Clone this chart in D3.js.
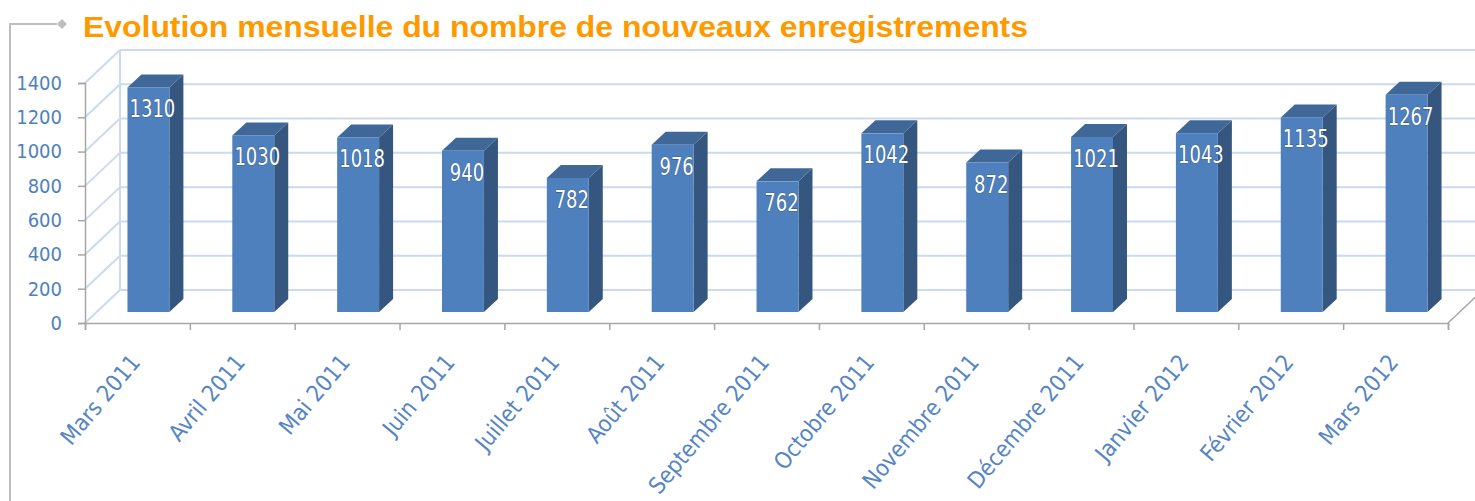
<!DOCTYPE html>
<html>
<head>
<meta charset="utf-8">
<script src="https://cdn.jsdelivr.net/npm/d3@7"></script>
<style>
  html, body { margin: 0; padding: 0; background: #fff; }
  svg { display: block; }
</style>
</head>
<body>
<div id="chart"></div>
<script>
(function () {
  const MONTHS = ['Mars 2011', 'Avril 2011', 'Mai 2011', 'Juin 2011', 'Juillet 2011', 'Août 2011',
    'Septembre 2011', 'Octobre 2011', 'Novembre 2011', 'Décembre 2011', 'Janvier 2012', 'Février 2012', 'Mars 2012'];
  const VALUES = [1310, 1030, 1018, 940, 782, 976, 762, 1042, 872, 1021, 1043, 1135, 1267];
  const Y_TICKS = [0, 200, 400, 600, 800, 1000, 1200, 1400];
  const TITLE = 'Evolution mensuelle du nombre de nouveaux enregistrements';

  const width = 1475, height = 501;
  const LABEL_FONT = "'DejaVu Sans Condensed', 'Lato', sans-serif";

  // 3d offsets (front plane -> bar plane -> back wall)
  const BAR_OFF = { dx: 11, dy: -11 };
  const BAR_DEPTH = { dx: 14, dy: -13 };
  const WALL_OFF = { dx: 35, dy: -33 };

  const svg = d3.select('#chart').append('svg')
    .attr('width', width)
    .attr('height', height);

  // category slots on the front plane
  const xSlot = d3.scaleLinear().domain([0, MONTHS.length]).range([85, 1448]);
  const x = d3.scaleBand().domain(d3.range(MONTHS.length)).range([85, 1448]).paddingInner(0.6).paddingOuter(0.3);
  const y = d3.scaleLinear().domain([0, 1400]).range([323, 83]);

  // left frame decoration
  svg.append('path')
    .attr('d', 'M10,501 L10,24 L57,24')
    .attr('fill', 'none')
    .attr('stroke', '#bdbdbd')
    .attr('stroke-width', 2);
  svg.append('path')
    .attr('d', 'M62,19 L67,24 L62,29 L57,24 Z')
    .attr('fill', '#bdbdbd');

  // title
  svg.append('text')
    .attr('x', 83)
    .attr('y', 37)
    .attr('fill', '#ff9900')
    .attr('font-family', "'Liberation Sans', Arial, sans-serif")
    .attr('font-weight', 'bold')
    .attr('font-size', '29px')
    .attr('textLength', 945)
    .attr('lengthAdjust', 'spacingAndGlyphs')
    .text(TITLE);

  // back wall + side wall gridlines
  const grid = svg.append('g').attr('stroke', '#cbdaee').attr('stroke-width', 2).attr('fill', 'none');
  Y_TICKS.forEach(t => {
    grid.append('line')
      .attr('x1', 85 + WALL_OFF.dx).attr('x2', width)
      .attr('y1', y(t) + WALL_OFF.dy).attr('y2', y(t) + WALL_OFF.dy);
    grid.append('line')
      .attr('x1', 85).attr('x2', 85 + WALL_OFF.dx)
      .attr('y1', y(t)).attr('y2', y(t) + WALL_OFF.dy);
  });
  grid.append('line')
    .attr('x1', 85 + WALL_OFF.dx).attr('x2', 85 + WALL_OFF.dx)
    .attr('y1', y(1400) + WALL_OFF.dy).attr('y2', y(0) + WALL_OFF.dy);

  // floor right edge
  svg.append('line')
    .attr('x1', 1448).attr('x2', 1448 + WALL_OFF.dx)
    .attr('y1', y(0)).attr('y2', y(0) + WALL_OFF.dy)
    .attr('stroke', '#a6a6a6').attr('stroke-width', 1.5);

  // y axis
  svg.append('g')
    .attr('transform', 'translate(85,0)')
    .call(d3.axisLeft(y).tickValues(Y_TICKS).tickFormat(d3.format('d')).tickSize(7).tickPadding(16))
    .call(g => g.select('.domain').attr('stroke', '#a6a6a6').attr('stroke-width', 1.5))
    .call(g => g.selectAll('line').attr('stroke', '#a6a6a6').attr('stroke-width', 1.5))
    .call(g => g.selectAll('text')
      .attr('fill', '#4f81bd')
      .attr('font-family', LABEL_FONT)
      .attr('font-size', '20px'));

  // x axis (ticks at slot boundaries)
  svg.append('g')
    .attr('transform', `translate(0,${y(0)})`)
    .call(d3.axisBottom(xSlot).tickValues(d3.range(MONTHS.length + 1)).tickSize(7).tickFormat(''))
    .call(g => g.select('.domain').attr('stroke', '#a6a6a6').attr('stroke-width', 1.5))
    .call(g => g.selectAll('line').attr('stroke', '#a6a6a6').attr('stroke-width', 1.5));

  // x labels, rotated
  svg.append('g').selectAll('text')
    .data(MONTHS)
    .join('text')
    .attr('transform', (d, i) => `translate(${xSlot(i + 0.5) + 4},${y(0) + 40}) rotate(-50)`)
    .attr('text-anchor', 'end')
    .attr('fill', '#5585c4')
    .attr('font-family', LABEL_FONT)
    .attr('font-size', '23px')
    .text(d => d);

  // bars
  const bars = svg.append('g').selectAll('g')
    .data(VALUES)
    .join('g');

  const bx0 = i => x(i) + BAR_OFF.dx;
  const bx1 = i => x(i) + x.bandwidth() + BAR_OFF.dx;
  const byTop = d => y(d) + BAR_OFF.dy;
  const byBase = y(0) + BAR_OFF.dy;

  // side face
  bars.append('path')
    .attr('d', (d, i) => {
      const a = bx1(i), t = byTop(d);
      return `M${a},${t} L${a + BAR_DEPTH.dx},${t + BAR_DEPTH.dy} L${a + BAR_DEPTH.dx},${byBase + BAR_DEPTH.dy} L${a},${byBase} Z`;
    })
    .attr('fill', '#34567f');

  // top face
  bars.append('path')
    .attr('d', (d, i) => {
      const a = bx0(i), b = bx1(i), t = byTop(d);
      return `M${a},${t} L${a + BAR_DEPTH.dx},${t + BAR_DEPTH.dy} L${b + BAR_DEPTH.dx},${t + BAR_DEPTH.dy} L${b},${t} Z`;
    })
    .attr('fill', '#3f6899');

  // front face
  bars.append('rect')
    .attr('x', (d, i) => bx0(i))
    .attr('y', d => byTop(d))
    .attr('width', x.bandwidth())
    .attr('height', d => byBase - byTop(d))
    .attr('fill', '#4e80bd');

  // value labels (slightly stretched vertically like the original)
  bars.append('text')
    .attr('transform', (d, i) => `translate(${bx0(i) + x.bandwidth() / 2 + 4},${byTop(d) + 30}) scale(1,1.22)`)
    .attr('text-anchor', 'middle')
    .attr('fill', '#fff')
    .attr('font-family', LABEL_FONT)
    .attr('font-size', '20px')
    .attr('stroke', '#2c4a70')
    .attr('stroke-width', 0.6)
    .attr('paint-order', 'stroke')
    .text(d => d);
})();
</script>
</body>
</html>
